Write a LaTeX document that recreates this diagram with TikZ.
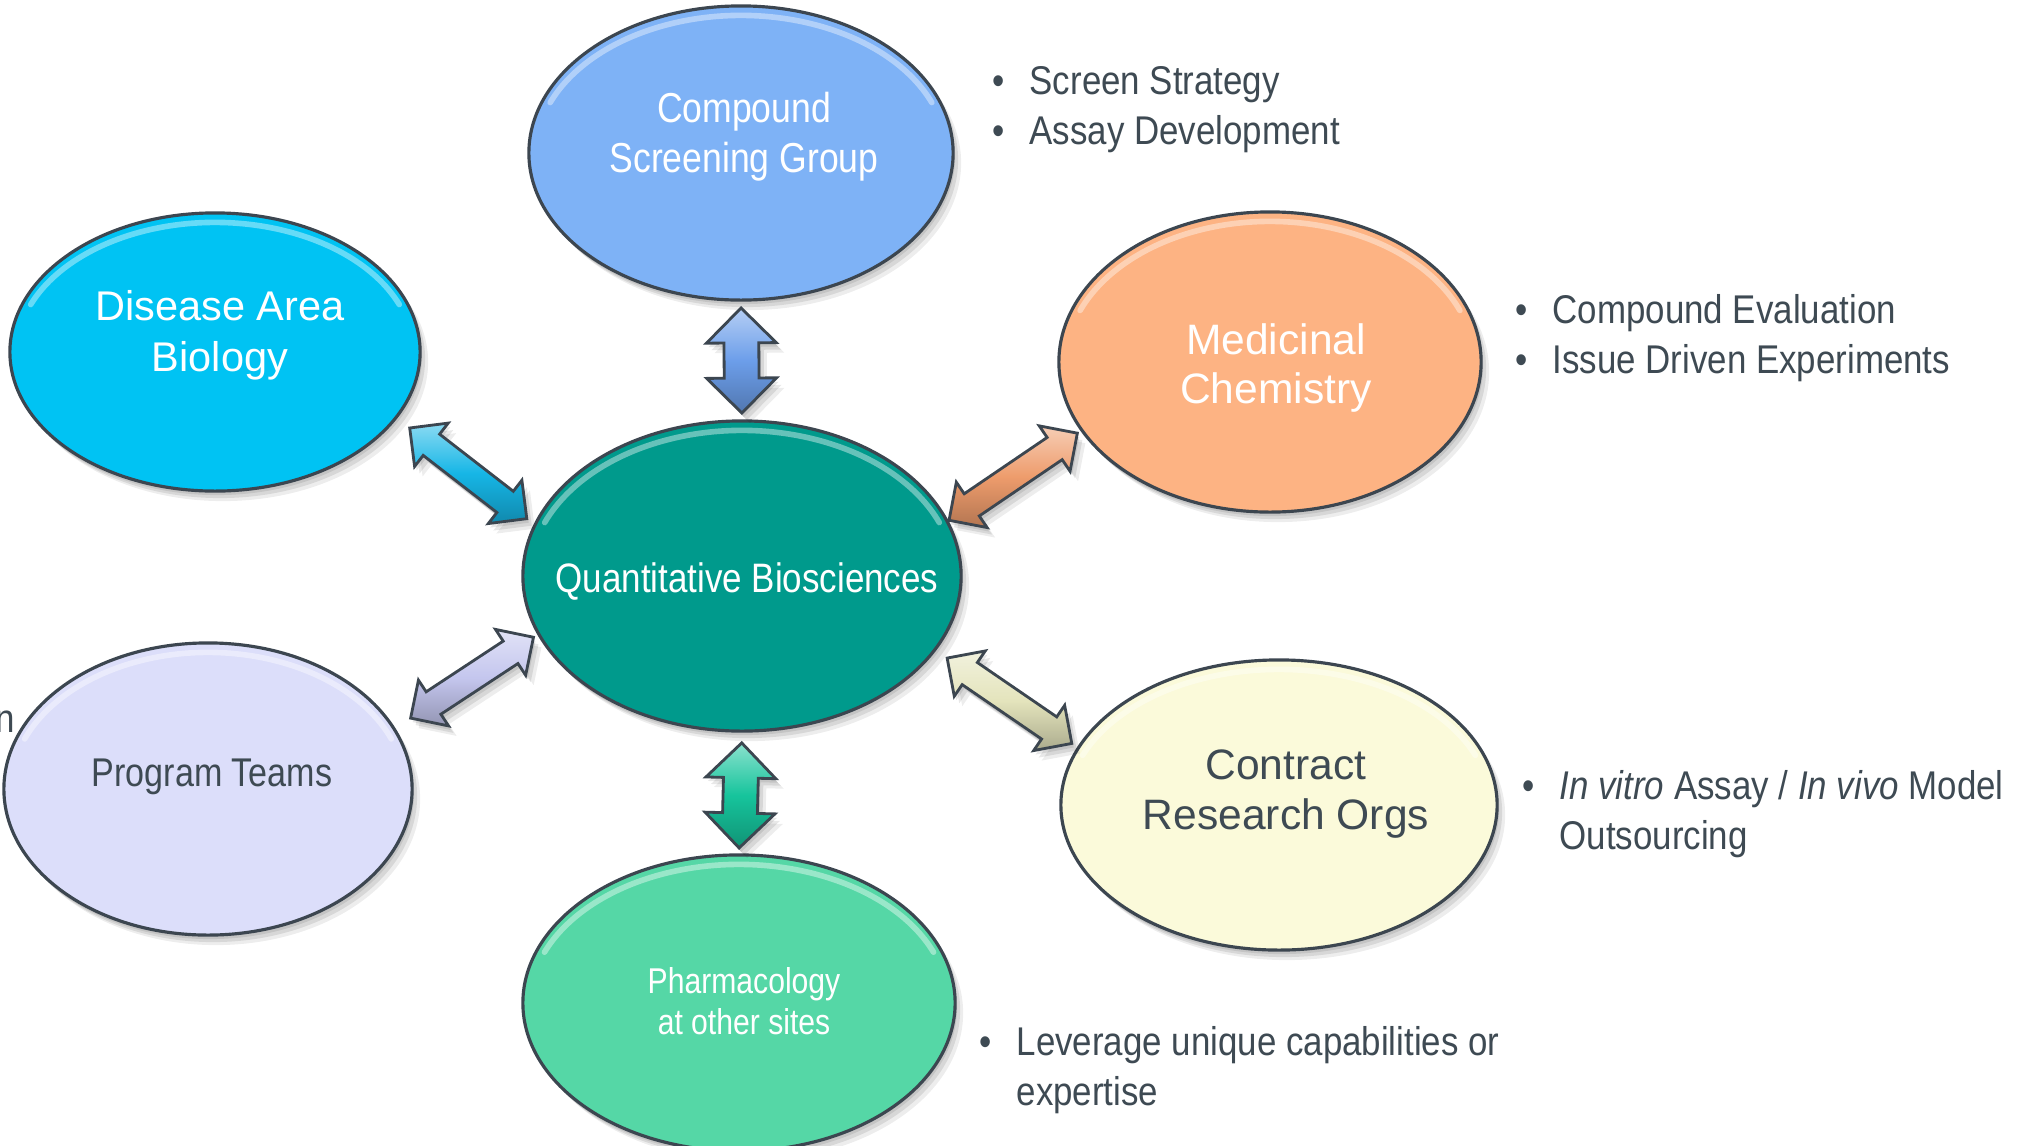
\documentclass[tikz,border=0pt]{standalone}
\usepackage{fontspec}
\setmainfont{Liberation Sans}
\newfontfamily\condfont[FakeStretch=0.85]{Liberation Sans}
\newfontfamily\bulletfont[FakeStretch=0.87]{Liberation Sans}
\newfontfamily\pharmfont[FakeStretch=0.84]{Liberation Sans}
\usetikzlibrary{shapes.geometric,shapes.arrows,shadows,calc}
\definecolor{edgegray}{HTML}{3C4650}
\definecolor{txtgray}{HTML}{3E4A53}
\definecolor{csgblue}{HTML}{7EB2F6}
\definecolor{dabcyan}{HTML}{00C3F3}
\definecolor{mcorange}{HTML}{FDB383}
\definecolor{qbteal}{HTML}{009A8C}
\definecolor{ptlilac}{HTML}{DCDEFA}
\definecolor{crocream}{HTML}{FBFADA}
\definecolor{pasgreen}{HTML}{55D7A6}
\definecolor{csgarrow}{HTML}{6C9EEA}
\definecolor{dabarrow}{HTML}{16B6E6}
\definecolor{mcarrow}{HTML}{EE9C6C}
\definecolor{ptarrow}{HTML}{C4C6EE}
\definecolor{croarrow}{HTML}{E4E4BC}
\definecolor{pasarrow}{HTML}{16C49C}
\newcommand{\bl}{\llap{\textbullet\hspace{0.25cm}}}
\begin{document}
\begin{tikzpicture}[x=0.01cm, y=-0.01cm,
	softshadow/.style={
		general shadow={fill=black, opacity=.09, shadow xshift=0.02cm, shadow yshift=-0.04cm},
		general shadow={fill=black, opacity=.09, shadow xshift=0.05cm, shadow yshift=-0.07cm},
		general shadow={fill=black, opacity=.07, shadow xshift=0.08cm, shadow yshift=-0.10cm}},
	gloss/.style={path picture={
		\draw[white, line width=1.6pt, opacity=.4, line cap=round]
		let \p1=(path picture bounding box.north east), \p2=(path picture bounding box.center),
		\n1={\x1-\x2-1.8pt}, \n2={\y1-\y2-2.2pt}
		in ({\x2+\n1*cos(22)},{\y2-0.5pt+\n2*sin(22)}) arc [start angle=22, end angle=158, x radius=\n1, y radius=\n2];}},
	bubble/.style={ellipse, draw=edgegray, line width=0.9pt, inner sep=0pt, softshadow, gloss},
	bubbletext/.style={align=center, inner sep=0pt},
	bullets/.style={align=left, inner sep=0pt, anchor=base west, text=txtgray, font=\bulletfont\fontsize{11.4}{14.2}\selectfont},
	arrowbody/.style={double arrow, draw=edgegray, line width=0.8pt, inner xsep=0pt,
		top color=#1!50!white, bottom color=#1!75!black, middle color=#1, softshadow},
	vertarrow/.style={arrowbody=#1, inner ysep=0.16cm, double arrow head extend=0.175cm, minimum width=0.67cm, minimum height=1.05cm},
	diagarrow/.style={arrowbody=#1, inner ysep=0.12cm, double arrow head extend=0.14cm, minimum width=0.52cm}]

\path[use as bounding box, fill=white] (0,0) rectangle (2030,1145);

% the seven groups
\node[bubble, fill=csgblue, minimum width=4.24cm, minimum height=2.94cm] (csg) at (741,153) {};
\node[bubble, fill=dabcyan, minimum width=4.10cm, minimum height=2.78cm] (dab) at (215,352) {};
\node[bubble, fill=mcorange, minimum width=4.22cm, minimum height=3.00cm] (mc) at (1270,362) {};
\node[bubble, fill=qbteal, minimum width=4.38cm, minimum height=3.10cm] (qb) at (742,576) {};
\node[bubble, fill=ptlilac, minimum width=4.08cm, minimum height=2.92cm] (pt) at (208,789) {};
\node[bubble, fill=crocream, minimum width=4.36cm, minimum height=2.90cm] (cro) at (1279,805) {};
\node[bubble, fill=pasgreen, minimum width=4.32cm, minimum height=2.96cm] (pas) at (739,1003) {};

\node[bubbletext, text=white, font=\condfont\fontsize{11.9}{14.2}\selectfont] (csg-t) at (744,137) {Compound\\Screening Group};
\node[bubbletext, text=white, font=\fontsize{11.8}{14.5}\selectfont] (dab-t) at (220,335) {Disease Area\\Biology};
\node[bubbletext, text=white, font=\fontsize{12.1}{13.9}\selectfont] (mc-t) at (1276,368) {Medicinal\\Chemistry};
\node[bubbletext, text=white, font=\condfont\fontsize{11.7}{14.2}\selectfont] (qb-t) at (747,581) {Quantitative Biosciences};
\node[bubbletext, text=txtgray, font=\condfont\fontsize{11.4}{14.2}\selectfont] (pt-t) at (212,777) {Program Teams};
\node[bubbletext, text=txtgray, font=\fontsize{12.1}{14.2}\selectfont] (cro-t) at (1286,794) {Contract\\Research Orgs};
\node[bubbletext, text=white, font=\pharmfont\fontsize{10.2}{11.7}\selectfont] (pas-t) at (744,1001) {Pharmacology\\at other sites};

% double arrows to the centre
\path (qb.north) -- (csg.south) node[midway, sloped, vertarrow=csgarrow] (a-csg) {};
\path (qb.166) -- (dab.-20) node[pos=.48, sloped, diagarrow=dabarrow, minimum height=1.48cm] (a-dab) {};
\path (qb.15) -- (mc.200.5) node[pos=.49, sloped, diagarrow=mcarrow, minimum height=1.55cm] (a-mc) {};
\path (pt.18) -- (qb.-164) node[pos=.54, sloped, diagarrow=ptarrow, minimum height=1.47cm] (a-pt) {};
\path (qb.-21) -- (cro.164) node[pos=.52, sloped, diagarrow=croarrow, minimum height=1.51cm] (a-cro) {};
\path (pas.north) -- (qb.south) node[pos=.48, sloped, vertarrow=pasarrow] (a-pas) {};

% notes (base anchor sits on the last line)
\node[bullets] (csg-b) at (1029,144) {\bl Screen Strategy\\\bl Assay Development};
\node[bullets] (mc-b) at (1552,373) {\bl Compound Evaluation\\\bl Issue Driven Experiments};
\node[bullets] (cro-b) at (1559,849) {\bl\textit{In vitro} Assay / \textit{In vivo} Model\\Outsourcing};
\node[bullets] (pas-b) at (1016,1105) {\bl Leverage unique capabilities or\\expertise};
\node[bullets, anchor=base east] (cut-n) at (16,732) {n};
\end{tikzpicture}
\end{document}
